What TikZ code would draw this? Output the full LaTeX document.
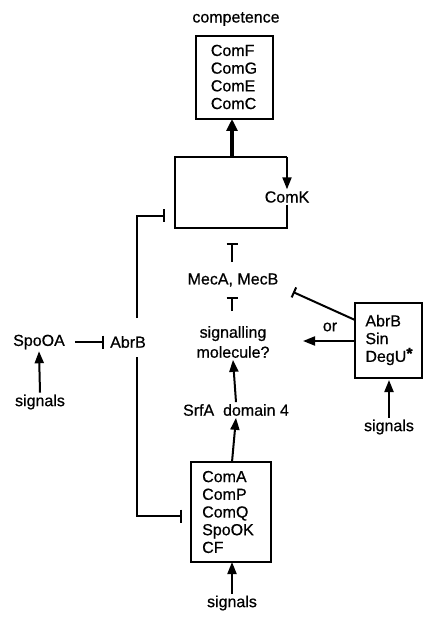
\documentclass[tikz,border=0pt]{standalone}
\usepackage{fontspec}
\setmainfont[FakeBold=0.6]{Liberation Sans}
\usetikzlibrary{arrows.meta}
\begin{document}
\begin{tikzpicture}[x=1pt,y=-1pt,
  line width=2pt,
  lbl/.style={font=\fontsize{16}{18}\selectfont, inner sep=1pt},
  boxtxt/.style={font=\fontsize{16}{17.7}\selectfont, align=left, inner sep=0pt},
  act/.style={-{Triangle[length=12pt,width=9pt]}},
  thickact/.style={line width=3.5pt,-{Triangle[length=12pt,width=11pt]}},
  inh/.style={-{Bar[width=13pt,line width=2pt]}},
  inhs/.style={-{Bar[width=11pt,line width=2pt]}}]
\useasboundingbox (0,0) rectangle (424,617);
% top box
\node[lbl] (comp) at (236,19) {competence};
\draw (196,36) rectangle (273,119);
\node[boxtxt] (tbox) at (234,77) {ComF\\ComG\\ComE\\ComC};
% ComK box
\coordinate (ktl) at (175,157);
\coordinate (ktr) at (287,157);
\coordinate (kbl) at (175,228);
\coordinate (kbr) at (287,228);
\coordinate (ktop) at (232,157);
\coordinate (tbot) at (232,119);
\node[lbl] (comk) at (287,197) {ComK};
\draw (comk.south) -- (kbr) -- (kbl) -- (ktl) -- (ktr);
\draw[act] (ktr) -- (comk.north);
\draw[thickact] (ktop) -- (tbot);
% middle column
\node[lbl] (mec) at (233,280) {MecA, MecB};
\node[lbl, align=center, font=\fontsize{16}{20}\selectfont] (sig) at (233,342) {signalling\\molecule?};
\node[lbl] (srf) at (236,410) {SrfA\ \ domain 4};
\coordinate (b1) at (232,243);
\coordinate (m1) at (232,262);
\coordinate (b2) at (232,297);
\coordinate (s1) at (232,311);
\draw[inhs] (m1) -- (b1);
\draw[inhs] (s1) -- (b2);
\draw[act] (srf.north) -- (sig.south);
% bottom box
\draw (191,462) rectangle (271,562);
\node[boxtxt] (bbox) at (228,512) {ComA\\ComP\\ComQ\\SpoOK\\CF};
\coordinate (bbtop) at (232,462);
\coordinate (bbbot) at (232,562);
\draw[act] (bbtop) -- (srf.south);
\node[lbl] (sigb) at (232,603) {signals};
\draw[act] (sigb.north) -- (bbbot);
% left
\node[lbl] (spo) at (39,342) {SpoOA};
\node[lbl] (abr) at (128,342) {AbrB};
\draw[inh] ([xshift=8pt]spo.east) -- ([xshift=-4pt]abr.west);
\node[lbl] (sigl) at (40,402) {signals};
\draw[act] (sigl.north) -- (spo.south);
\coordinate (lt) at (137,216);
\coordinate (lb) at (137,516);
\draw[inh] (137,318) -- (lt) -- (165,216);
\draw[inh] (137,357) -- (lb) -- (182,516);
% right box
\draw (355,303) rectangle (422,378);
\node[boxtxt] (rbox) at (389,340) {AbrB\\Sin\\DegU\raisebox{3pt}{\textbf{*}}};
\coordinate (rl) at (355,341);
\coordinate (rtl) at (355,320);
\draw[act] (rl) -- (303,341);
\node[lbl] (or) at (330,327) {or};
\draw[inhs] (rtl) -- (293,292);
\node[lbl] (sigr) at (389,427) {signals};
\draw[act] (sigr.north) -- (389,380);
\end{tikzpicture}
\end{document}
